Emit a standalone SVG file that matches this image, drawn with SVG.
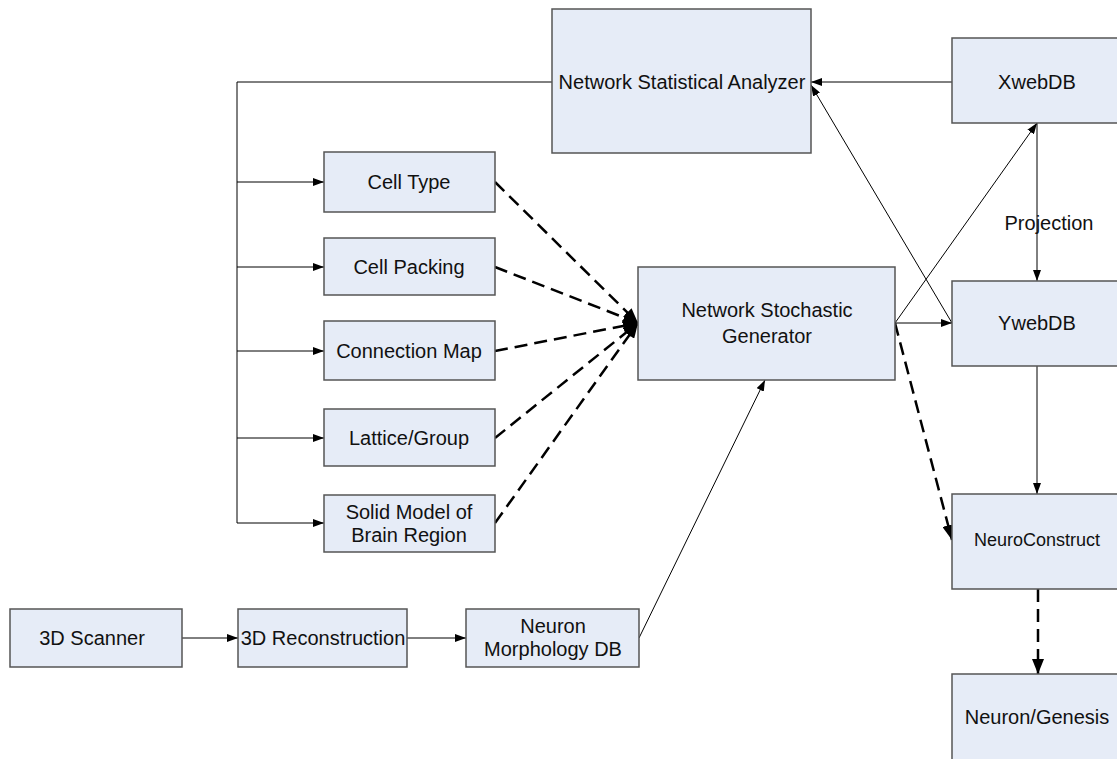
<svg xmlns="http://www.w3.org/2000/svg" width="1117" height="759" viewBox="0 0 1117 759">
<style>
.box{fill:#E6ECF7;stroke:#555;stroke-width:1.5}
.t{font-family:"Liberation Sans",Arial,sans-serif;font-size:20px;fill:#111;text-anchor:middle}
.s{fill:none;stroke:#000;stroke-width:1}
.d{fill:none;stroke:#000;stroke-width:2.5;stroke-dasharray:13,7}
</style>
<defs>
<marker id="a" markerUnits="userSpaceOnUse" markerWidth="11" markerHeight="8" refX="11" refY="4" orient="auto"><path d="M0,0 L11,4 L0,8 z" fill="#000"/></marker>
<marker id="b" markerUnits="userSpaceOnUse" markerWidth="15" markerHeight="12" refX="15" refY="6" orient="auto"><path d="M0,0 L15,6 L0,12 z" fill="#000"/></marker>
</defs>
<rect width="1117" height="759" fill="#fff"/>
<g id="connectors">
<path class="s" d="M552,82 H237 V523" stroke="#444"/>
<path class="s" d="M237,182 H324" marker-end="url(#a)"/>
<path class="s" d="M237,267 H324" marker-end="url(#a)"/>
<path class="s" d="M237,351 H324" marker-end="url(#a)"/>
<path class="s" d="M237,438 H324" marker-end="url(#a)"/>
<path class="s" d="M237,523 H324" marker-end="url(#a)"/>
<path class="d" d="M495,182 L638,323" marker-end="url(#b)"/>
<path class="d" d="M495,267 L638,323" marker-end="url(#b)"/>
<path class="d" d="M495,351 L638,323" marker-end="url(#b)"/>
<path class="d" d="M495,438 L638,323" marker-end="url(#b)"/>
<path class="d" d="M495,523 L638,323" marker-end="url(#b)"/>
<path class="s" d="M952,82 H811" stroke="#444" marker-end="url(#a)"/>
<path class="s" d="M1037,123 V281" marker-end="url(#a)"/>
<path class="s" d="M895,323 L1037,123" marker-end="url(#a)"/>
<path class="s" d="M952,323 L811,85" marker-end="url(#a)"/>
<path class="s" d="M895,323 H952" marker-end="url(#a)"/>
<path class="s" d="M1037,366 V494" marker-end="url(#a)"/>
<path class="d" d="M895,323 L952,540" marker-end="url(#b)"/>
<path class="d" d="M1038,589 V674" marker-end="url(#b)"/>
<path class="s" d="M639,638 L765,380" marker-end="url(#a)"/>
<path class="s" d="M182,638 H238" marker-end="url(#a)"/>
<path class="s" d="M407,638 H466" marker-end="url(#a)"/>
<text class="t" x="1049" y="230">Projection</text>
</g>
<g id="nsa"><rect class="box" x="552" y="9" width="259" height="144"/><text class="t" x="682" y="89">Network Statistical Analyzer</text></g>
<g id="xwebdb"><rect class="box" x="952" y="38" width="175" height="85"/><text class="t" x="1037" y="89">XwebDB</text></g>
<g id="celltype"><rect class="box" x="324" y="152" width="171" height="60"/><text class="t" x="409" y="189">Cell Type</text></g>
<g id="cellpacking"><rect class="box" x="324" y="238" width="171" height="57"/><text class="t" x="409" y="274">Cell Packing</text></g>
<g id="connmap"><rect class="box" x="324" y="321" width="171" height="59"/><text class="t" x="409" y="358">Connection Map</text></g>
<g id="lattice"><rect class="box" x="324" y="409" width="171" height="57"/><text class="t" x="409" y="445">Lattice/Group</text></g>
<g id="solid"><rect class="box" x="324" y="495" width="171" height="57"/><text class="t" x="409" y="519">Solid Model of</text><text class="t" x="409" y="542">Brain Region</text></g>
<g id="nsg"><rect class="box" x="638" y="267" width="257" height="113"/><text class="t" x="767" y="317">Network Stochastic</text><text class="t" x="767" y="343">Generator</text></g>
<g id="ywebdb"><rect class="box" x="952" y="281" width="175" height="85"/><text class="t" x="1037" y="330">YwebDB</text></g>
<g id="neuroconstruct"><rect class="box" x="952" y="494" width="175" height="95"/><text class="t" x="1037" y="546" style="font-size:18px">NeuroConstruct</text></g>
<g id="genesis"><rect class="box" x="952" y="674" width="175" height="95"/><text class="t" x="1037" y="724">Neuron/Genesis</text></g>
<g id="scanner"><rect class="box" x="10" y="609" width="172" height="58"/><text class="t" x="92" y="645">3D Scanner</text></g>
<g id="recon"><rect class="box" x="238" y="609" width="169" height="58"/><text class="t" x="323" y="645">3D Reconstruction</text></g>
<g id="morph"><rect class="box" x="466" y="609" width="173" height="58"/><text class="t" x="553" y="633">Neuron</text><text class="t" x="553" y="656">Morphology DB</text></g>
</svg>
